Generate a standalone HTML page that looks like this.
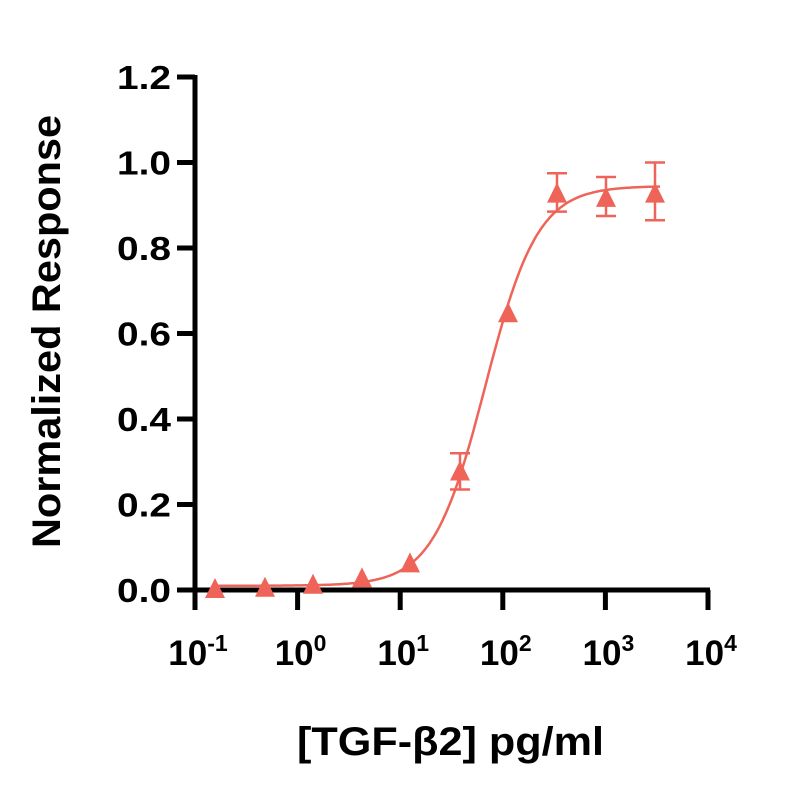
<!DOCTYPE html>
<html><head><meta charset="utf-8"><style>
body{margin:0;background:#fff}
svg text{font-family:"Liberation Sans",sans-serif;font-weight:bold;fill:#000}
</style></head><body>
<svg id="s" width="800" height="800" xmlns="http://www.w3.org/2000/svg">
<g stroke="#000" stroke-width="5" fill="none">
<line x1="195" y1="75" x2="195" y2="610"/>
<line x1="177" y1="590" x2="710" y2="590"/>
<line x1="177" y1="77" x2="195" y2="77"/>
<line x1="177" y1="162.5" x2="195" y2="162.5"/>
<line x1="177" y1="248" x2="195" y2="248"/>
<line x1="177" y1="333.5" x2="195" y2="333.5"/>
<line x1="177" y1="419" x2="195" y2="419"/>
<line x1="177" y1="504.5" x2="195" y2="504.5"/>
<line x1="297.6" y1="590" x2="297.6" y2="610"/>
<line x1="400.2" y1="590" x2="400.2" y2="610"/>
<line x1="502.8" y1="590" x2="502.8" y2="610"/>
<line x1="605.4" y1="590" x2="605.4" y2="610"/>
<line x1="708" y1="590" x2="708" y2="610"/>
</g>
<g font-size="33" text-anchor="end">
<text x="171" y="89" textLength="54" lengthAdjust="spacingAndGlyphs">1.2</text>
<text x="171" y="174.5" textLength="54" lengthAdjust="spacingAndGlyphs">1.0</text>
<text x="171" y="260" textLength="54" lengthAdjust="spacingAndGlyphs">0.8</text>
<text x="171" y="345.5" textLength="54" lengthAdjust="spacingAndGlyphs">0.6</text>
<text x="171" y="431" textLength="54" lengthAdjust="spacingAndGlyphs">0.4</text>
<text x="171" y="516.5" textLength="54" lengthAdjust="spacingAndGlyphs">0.2</text>
<text x="171" y="602" textLength="54" lengthAdjust="spacingAndGlyphs">0.0</text>
</g>
<g font-size="35" text-anchor="middle">
<text x="198" y="665">10<tspan font-size="23" dy="-14">-1</tspan></text>
<text x="300.6" y="665">10<tspan font-size="23" dy="-14">0</tspan></text>
<text x="403.2" y="665">10<tspan font-size="23" dy="-14">1</tspan></text>
<text x="505.8" y="665">10<tspan font-size="23" dy="-14">2</tspan></text>
<text x="608.4" y="665">10<tspan font-size="23" dy="-14">3</tspan></text>
<text x="711" y="665">10<tspan font-size="23" dy="-14">4</tspan></text>
</g>
<text x="297" y="755" font-size="40" textLength="307" lengthAdjust="spacingAndGlyphs">[TGF-β2] pg/ml</text>
<text transform="translate(60,548) rotate(-90)" font-size="40" textLength="433" lengthAdjust="spacingAndGlyphs">Normalized Response</text>
<g id="d"></g>
</svg>
<script>
var Y=v=>590-v*427.5, X=l=>195+(l+1)*102.6;
var g=document.getElementById('d'),h='';
var p='';for(var i=0;i<=300;i++){var x=213+i*(660-213)/300,l=-1+(x-195)/102.6;var y=0.01+0.935/(1+Math.pow(10,1.7*(1.83-l)));p+=(i?'L':'M')+x.toFixed(1)+' '+Y(y).toFixed(1);}
h+='<path d="'+p+'" stroke="#ef6459" stroke-width="2.5" fill="none"/>';
var pts=[[215,0],[265,0.003],[313,0.01],[362,0.025],[410,0.06],[460,0.275,0.32,0.235],[508,0.645],[557,0.925,0.975,0.885],[606,0.915,0.966,0.875],[655,0.925,1.0,0.865]];
pts.forEach(q=>{var x=q[0],y=Y(q[1]);
if(q[2]!==undefined){var a=Y(q[2]),b=Y(q[3]);h+='<path d="M'+x+' '+a+'V'+b+'M'+(x-10)+' '+a+'H'+(x+10)+'M'+(x-10)+' '+b+'H'+(x+10)+'" stroke="#ef6459" stroke-width="2.5" fill="none"/>';}
h+='<polygon points="'+x+','+(y-12)+' '+(x-10)+','+(y+8)+' '+(x+10)+','+(y+8)+'" fill="#ef6459"/>';});
g.innerHTML=h;
</script>
</body></html>
